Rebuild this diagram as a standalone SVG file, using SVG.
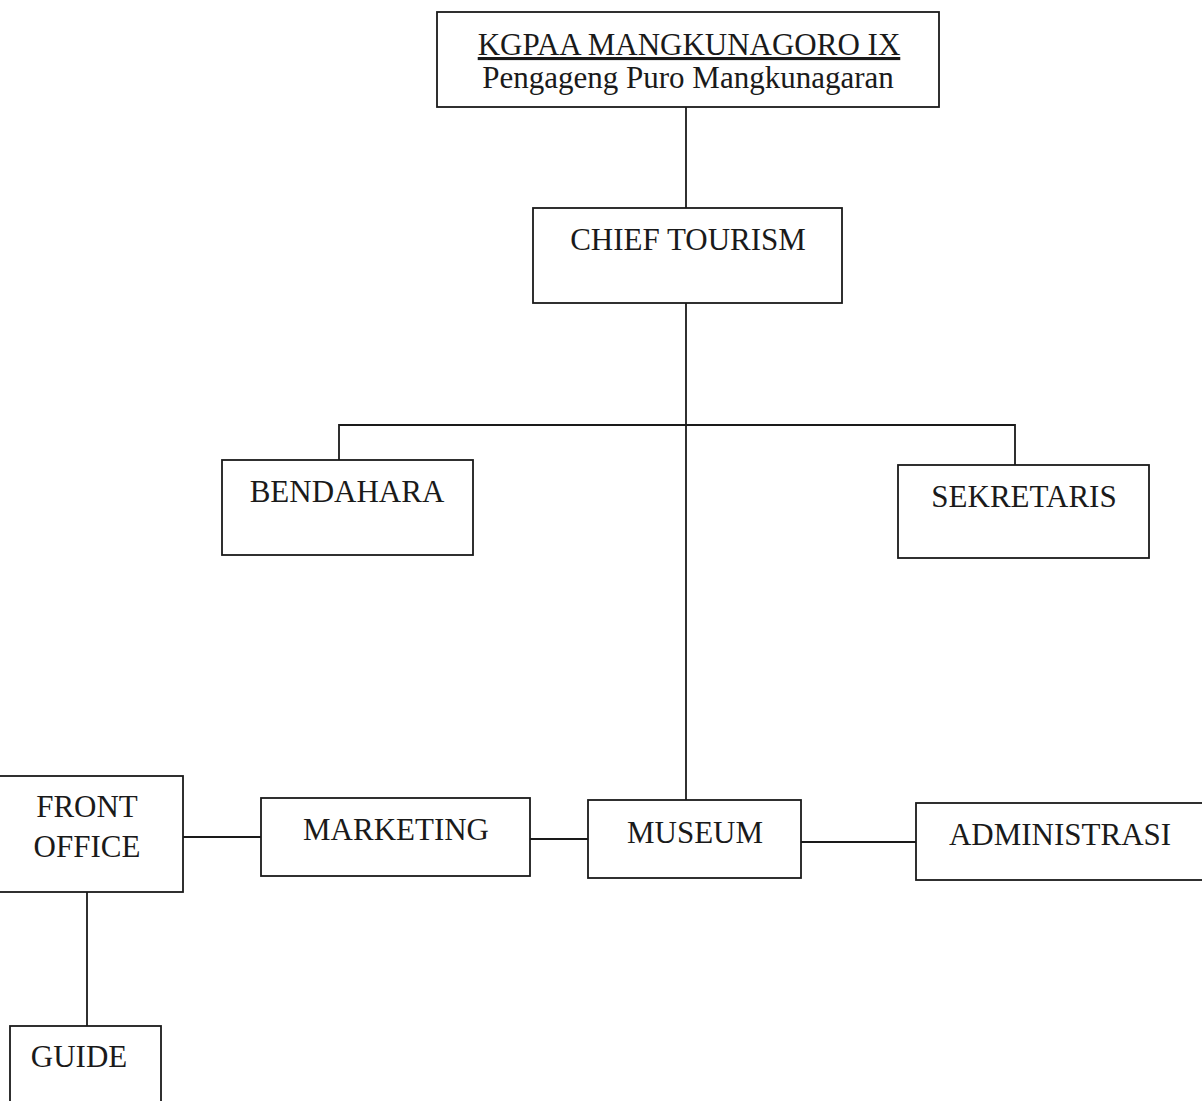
<svg xmlns="http://www.w3.org/2000/svg" width="1202" height="1101" viewBox="0 0 1202 1101">
<style>
.box{fill:#fff;stroke:#1a1a1a;stroke-width:1.8}
.ln{fill:none;stroke:#1a1a1a;stroke-width:1.8}
text{font-family:"Liberation Serif","Times New Roman",serif;font-size:31px;fill:#1a1a1a;text-anchor:middle}
</style>
<rect width="1202" height="1101" fill="#fff"/>
<g id="connectors">
<line class="ln" x1="686" y1="107" x2="686" y2="208"/>
<line class="ln" x1="686" y1="303" x2="686" y2="800"/>
<polyline class="ln" points="339,460 339,425 1015,425 1015,465"/>
<line class="ln" x1="183" y1="837" x2="261" y2="837"/>
<line class="ln" x1="530" y1="839" x2="588" y2="839"/>
<line class="ln" x1="801" y1="842" x2="916" y2="842"/>
<line class="ln" x1="87" y1="892" x2="87" y2="1026"/>
</g>
<g id="kgpaa">
<rect class="box" x="437" y="12" width="502" height="95"/>
<text x="689" y="55" text-decoration="underline">KGPAA MANGKUNAGORO IX</text>
<text x="688" y="88">Pengageng Puro Mangkunagaran</text>
</g>
<g id="chief">
<rect class="box" x="533" y="208" width="309" height="95"/>
<text x="688" y="250">CHIEF TOURISM</text>
</g>
<g id="bendahara">
<rect class="box" x="222" y="460" width="251" height="95"/>
<text x="347" y="502">BENDAHARA</text>
</g>
<g id="sekretaris">
<rect class="box" x="898" y="465" width="251" height="93"/>
<text x="1024" y="507">SEKRETARIS</text>
</g>
<g id="frontoffice">
<rect class="box" x="-2" y="776" width="185" height="116"/>
<text x="87" y="817">FRONT</text>
<text x="87" y="857">OFFICE</text>
</g>
<g id="marketing">
<rect class="box" x="261" y="798" width="269" height="78"/>
<text x="396" y="840">MARKETING</text>
</g>
<g id="museum">
<rect class="box" x="588" y="800" width="213" height="78"/>
<text x="695" y="843">MUSEUM</text>
</g>
<g id="administrasi">
<rect class="box" x="916" y="803" width="290" height="77"/>
<text x="1060" y="845">ADMINISTRASI</text>
</g>
<g id="guide">
<rect class="box" x="10" y="1026" width="151" height="80"/>
<text x="79" y="1067">GUIDE</text>
</g>
</svg>
